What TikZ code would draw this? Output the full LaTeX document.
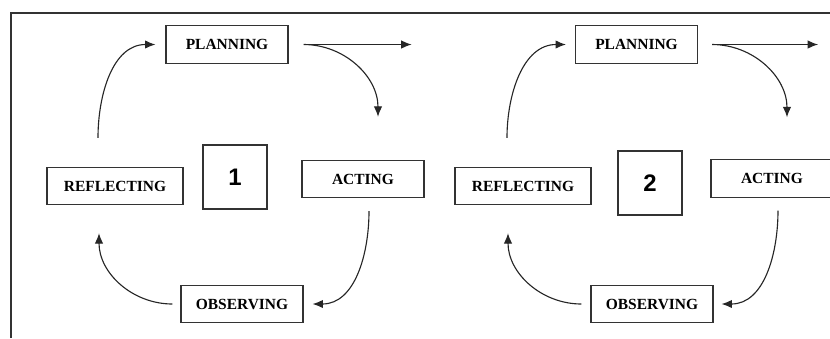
\documentclass[tikz,border=0pt]{standalone}
\usepackage{fontspec}
\setmainfont{Liberation Serif}
\setsansfont{Liberation Sans}
\usetikzlibrary{arrows.meta, positioning, calc}

\begin{document}
\begin{tikzpicture}[
    x=0.025cm, y=-0.025cm,
    stage/.style={draw=black!80, line width=0.8pt, minimum width=3.05cm, minimum height=0.93cm,
                  inner sep=1pt, align=center, font=\fontsize{11}{13}\selectfont\bfseries},
    wide/.style={minimum width=3.4cm},
    cyclebox/.style={draw=black!80, line width=0.8pt, minimum width=1.6cm, minimum height=1.6cm,
                     font=\sffamily\bfseries\fontsize{17}{19}\selectfont},
    arrow/.style={-{Latex[length=2.6mm, width=2.1mm]}, line width=0.8pt, black!85},
]
\useasboundingbox (0,0) rectangle (830,338);

% frame
\draw[line width=0.8pt, black!80] (11,338) -- (11,13) -- (830,13);

% cycle 1
\node[stage] (plan1) at (227,44.5) {PLANNING};
\node[stage, wide] (refl1) at (115,186) {REFLECTING};
\node[cyclebox] (num1) at (235,177) {1};
\node[stage] (act1) at (363,179) {ACTING};
\node[stage] (obs1) at (242,304) {OBSERVING};
\coordinate (next1) at ([xshift=3.075cm]plan1.east);

\draw[arrow] ([xshift=-0.425cm, yshift=0.725cm]refl1.north) to[out=90, in=180] ([xshift=-0.25cm]plan1.west);
\draw[arrow] ([xshift=0.375cm]plan1.east) -- (next1);
\draw[arrow] ([xshift=0.375cm]plan1.east) to[out=0, in=90] ([xshift=0.375cm, yshift=1.075cm]act1.north);
\draw[arrow] ([xshift=0.15cm, yshift=-0.325cm]act1.south) to[out=-90, in=0] ([xshift=0.225cm]obs1.east);
\draw[arrow] ([xshift=-0.2cm]obs1.west) to[out=180, in=-90] ([xshift=-0.4cm, yshift=-0.7cm]refl1.south);

% cycle 2
\node[stage] (plan2) at (636.5,44.5) {PLANNING};
\node[stage, wide] (refl2) at (523,186) {REFLECTING};
\node[cyclebox] (num2) at (650,183) {2};
\node[stage] (act2) at (772,178.5) {ACTING};
\node[stage] (obs2) at (652,304) {OBSERVING};
\coordinate (next2) at ([xshift=3.0cm]plan2.east);

\draw[arrow] ([xshift=-0.4cm, yshift=0.725cm]refl2.north) to[out=90, in=180] ([xshift=-0.225cm]plan2.west);
\draw[arrow] ([xshift=0.35cm]plan2.east) -- (next2);
\draw[arrow] ([xshift=0.35cm]plan2.east) to[out=0, in=90] ([xshift=0.375cm, yshift=1.05cm]act2.north);
\draw[arrow] ([xshift=0.15cm, yshift=-0.325cm]act2.south) to[out=-90, in=0] ([xshift=0.2cm]obs2.east);
\draw[arrow] ([xshift=-0.225cm]obs2.west) to[out=180, in=-90] ([xshift=-0.375cm, yshift=-0.7cm]refl2.south);

\end{tikzpicture}
\end{document}
